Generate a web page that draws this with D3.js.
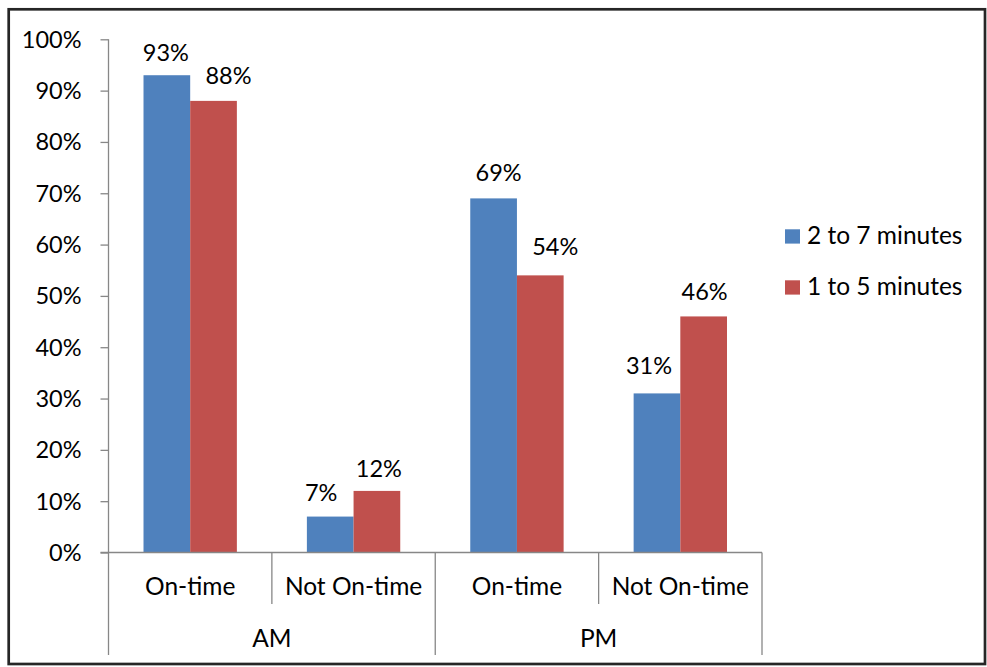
<!DOCTYPE html>
<html>
<head>
<meta charset="utf-8">
<script src="https://cdn.jsdelivr.net/npm/d3@7"></script>
<style>
  html, body { margin: 0; padding: 0; background: #fff; }
  svg { display: block; }
  text { font-family: Lato, "Open Sans", sans-serif; fill: #000; }
</style>
</head>
<body>
<svg id="chart" width="987" height="667"></svg>
<script>
// Data
const periods = ["AM", "PM"];
const statuses = ["On-time", "Not On-time"];
const seriesNames = ["2 to 7 minutes", "1 to 5 minutes"];
const seriesColors = ["#4F81BD", "#C0504D"];
// values per category, in order AM On-time, AM Not On-time, PM On-time, PM Not On-time
const shortWindow = [0.93, 0.07, 0.69, 0.31];   // 2 to 7 minutes
const longWindow  = [0.88, 0.12, 0.54, 0.46];   // 1 to 5 minutes
const yTickValues = [0, 0.1, 0.2, 0.3, 0.4, 0.5, 0.6, 0.7, 0.8, 0.9, 1.0];

// hand-placed label nudges (dx, extra lift) to keep value labels clear of each other
const labelNudge = [
  [[-1, 0], [-9, 2], [5, 3], [-8, 5]],
  [[15, 3], [2, 0], [15, 6], [1, 2]]
];

const numSize = 23.5;
const wordSize = 24.5;

const svg = d3.select("#chart");
const fmt = d3.format(".0%");

// outer frame
svg.append("rect")
  .attr("x", 8.7).attr("y", 9.3)
  .attr("width", 976.3).attr("height", 654.7)
  .attr("fill", "none").attr("stroke", "#262626").attr("stroke-width", 2.7);

const plot = { left: 108.5, right: 762, top: 39.3, bottom: 552.5 };
const axisColor = "#878787";

const categories = [];
periods.forEach(p => statuses.forEach(s => categories.push({ period: p, status: s, key: p + "|" + s })));

const x0 = d3.scaleBand()
  .domain(categories.map(c => c.key))
  .range([plot.left, plot.right])
  .paddingInner(0).paddingOuter(0);

const x1 = d3.scaleBand()
  .domain(seriesNames)
  .range([0, x0.bandwidth()])
  .paddingInner(0).paddingOuter(0.75);

const y = d3.scaleLinear().domain([0, 1]).range([plot.bottom, plot.top]);

const series = [shortWindow, longWindow];

// bars
series.forEach((vals, si) => {
  svg.append("g")
    .selectAll("rect")
    .data(vals)
    .join("rect")
    .attr("x", (d, i) => x0(categories[i].key) + x1(seriesNames[si]))
    .attr("y", d => y(d))
    .attr("width", x1.bandwidth())
    .attr("height", d => y(0) - y(d))
    .attr("fill", seriesColors[si]);
});

// value labels
series.forEach((vals, si) => {
  svg.append("g")
    .selectAll("text")
    .data(vals)
    .join("text")
    .attr("x", (d, i) => x0(categories[i].key) + x1(seriesNames[si]) + x1.bandwidth() / 2 + labelNudge[si][i][0])
    .attr("y", d => y(d) - 14)
    .attr("dy", (d, i) => -labelNudge[si][i][1])
    .attr("text-anchor", "middle")
    .attr("font-size", numSize)
    .text(d => fmt(d));
});

// y axis
const yAxis = d3.axisLeft(y)
  .tickValues(yTickValues)
  .tickFormat(fmt)
  .tickSize(8)
  .tickPadding(19);

const yg = svg.append("g")
  .attr("transform", `translate(${plot.left},0)`)
  .call(yAxis);
yg.select(".domain").remove();
yg.selectAll(".tick line").attr("stroke", axisColor).attr("stroke-width", 1.3);
yg.selectAll(".tick text")
  .attr("font-size", numSize)
  .attr("font-family", "Lato, 'Open Sans', sans-serif")
  .attr("fill", "#000")
  .attr("dy", "0.34em");

// vertical axis line (runs down through the category rows)
svg.append("line")
  .attr("x1", plot.left).attr("x2", plot.left)
  .attr("y1", plot.top).attr("y2", 655)
  .attr("stroke", axisColor).attr("stroke-width", 1.3);

// horizontal axis line
svg.append("line")
  .attr("x1", plot.left - 8).attr("x2", plot.right)
  .attr("y1", plot.bottom).attr("y2", plot.bottom)
  .attr("stroke", axisColor).attr("stroke-width", 1.3);

// category separators: short between statuses, long between periods
categories.forEach((c, i) => {
  const xPos = x0(c.key) + x0.bandwidth();
  const last = i === categories.length - 1;
  const periodEnd = last || categories[i + 1].period !== c.period;
  svg.append("line")
    .attr("x1", xPos).attr("x2", xPos)
    .attr("y1", plot.bottom).attr("y2", periodEnd ? 655 : 604)
    .attr("stroke", axisColor).attr("stroke-width", 1.3);
});

// status labels
svg.append("g")
  .selectAll("text")
  .data(categories)
  .join("text")
  .attr("x", c => x0(c.key) + x0.bandwidth() / 2)
  .attr("y", 595)
  .attr("text-anchor", "middle")
  .attr("font-size", wordSize)
  .text(c => c.status);

// period labels
svg.append("g")
  .selectAll("text")
  .data(periods)
  .join("text")
  .attr("x", p => {
    const keys = categories.filter(c => c.period === p).map(c => c.key);
    return (x0(keys[0]) + x0(keys[keys.length - 1]) + x0.bandwidth()) / 2;
  })
  .attr("y", 646.5)
  .attr("text-anchor", "middle")
  .attr("font-size", wordSize)
  .text(p => p);

// legend
const legend = svg.append("g");
seriesNames.forEach((name, i) => {
  const baseY = 244 + i * 51;
  legend.append("rect")
    .attr("x", 785).attr("y", baseY - 14.7)
    .attr("width", 15).attr("height", 14.3)
    .attr("fill", seriesColors[i]);
  legend.append("text")
    .attr("x", 807).attr("y", baseY)
    .attr("font-size", wordSize)
    .text(name);
});
</script>
</body>
</html>
